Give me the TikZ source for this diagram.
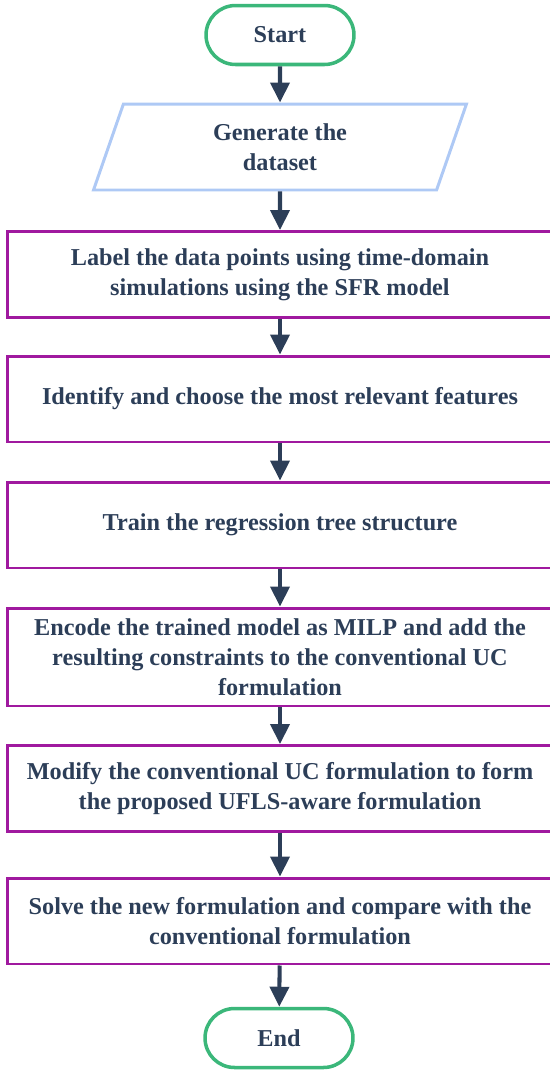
\documentclass[tikz,border=0pt]{standalone}
\usepackage{fontspec}
\setmainfont{Liberation Serif}
\usetikzlibrary{arrows.meta,shapes.geometric}
\definecolor{navy}{HTML}{2C3E58}
\definecolor{termgreen}{HTML}{3BB77A}
\definecolor{iolblue}{HTML}{AEC9F5}
\definecolor{procpurple}{HTML}{A0199F}
\tikzset{
	>={Triangle[width=0.38cm,length=0.4cm]},
}
\tikzstyle{txt}=[font=\fontsize{13.8}{17}\selectfont\bfseries,text=navy,align=center]
\tikzstyle{term}=[txt,draw=termgreen,line width=2pt,rounded corners=0.59cm,minimum width=2.96cm,minimum height=1.18cm]
\tikzstyle{io}=[txt,trapezium,trapezium left angle=63,trapezium right angle=117,
    trapezium stretches body,draw=iolblue,line width=1.7pt,minimum width=7.46cm,minimum height=1.72cm]
\tikzstyle{proc}=[txt,draw=procpurple,line width=1.7pt,minimum width=10.92cm,minimum height=1.72cm]
\tikzstyle{flow}=[->,draw=navy,line width=2.3pt]

\begin{document}
\begin{tikzpicture}[x=0.02cm,y=-0.02cm]
      \useasboundingbox (0,0) rectangle (549,1072);
      \node[term] (start) at (280,35) {Start};
      \node[io] (gen) at (280,147) {Generate the\\dataset};
      \node[proc] (lab) at (280,274.5) {Label the data points using time-domain\\simulations using the SFR model};
      \node[proc] (feat) at (280,399) {Identify and choose the most relevant features};
      \node[proc] (train) at (280,525) {Train the regression tree structure};
      \node[proc,minimum height=1.96cm] (enc) at (280,657) {Encode the trained model as MILP and add the\\resulting constraints to the conventional UC\\formulation};
      \node[proc] (mod) at (280,788.5) {Modify the conventional UC formulation to form\\the proposed UFLS-aware formulation};
      \node[proc] (solve) at (280,921) {Solve the new formulation and compare with the\\conventional formulation};
      \node[term] (end) at (279,1038) {End};
      \draw[flow] (start)--(gen);
      \draw[flow] (gen)--(lab);
      \draw[flow] (lab)--(feat);
      \draw[flow] (feat)--(train);
      \draw[flow] (train)--(enc);
      \draw[flow] (enc)--(mod);
      \draw[flow] (mod)--(solve);
      \draw[flow] (solve)--(end);
    \end{tikzpicture}
\end{document}
